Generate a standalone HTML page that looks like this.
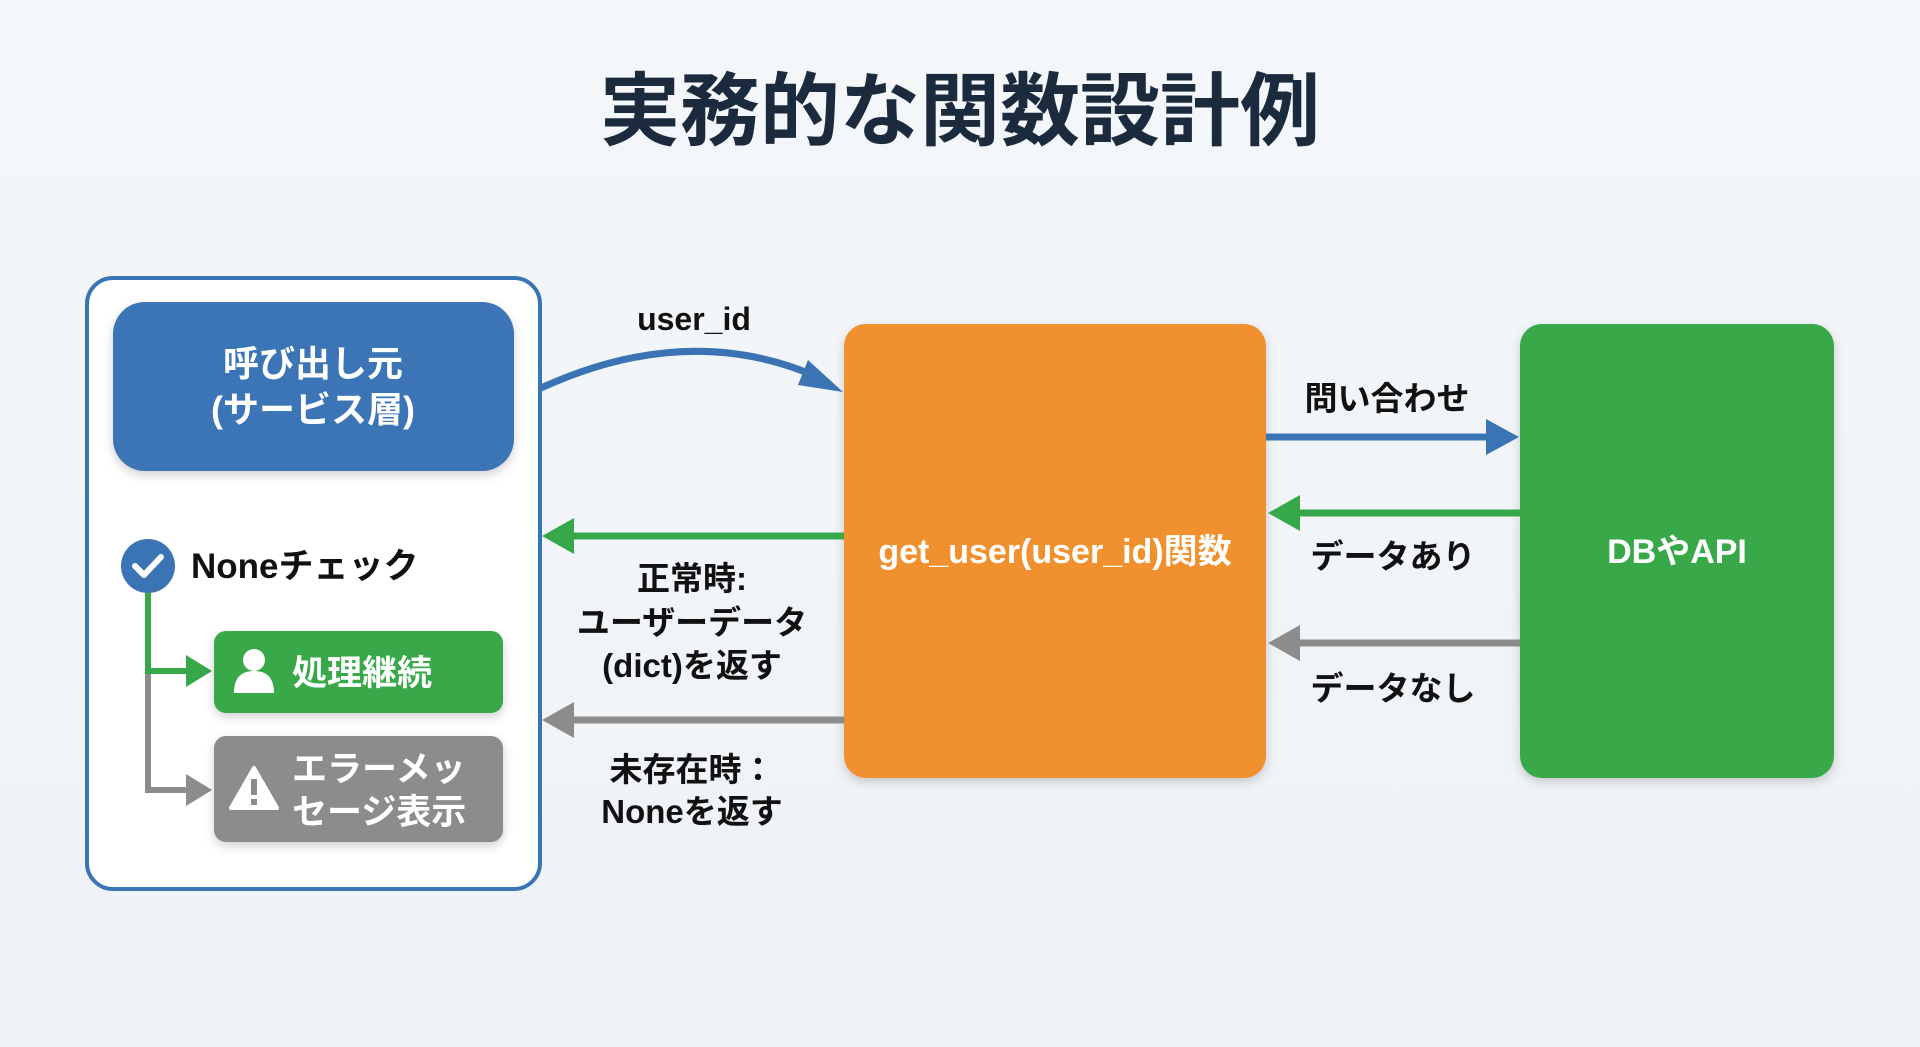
<!DOCTYPE html>
<html><head><meta charset="utf-8"><style>
html,body{margin:0;padding:0;width:1920px;height:1047px;overflow:hidden;background:linear-gradient(180deg,#f4f7fa,#eef2f6);}
svg{display:block}
text{font-family:"Liberation Sans","Noto Sans CJK JP",sans-serif;font-weight:bold}
</style></head><body>
<svg width="1920" height="1047" viewBox="0 0 1920 1047" xmlns="http://www.w3.org/2000/svg">
<defs>
<filter id="sh" x="-10%" y="-10%" width="120%" height="130%"><feDropShadow dx="0" dy="4" stdDeviation="5" flood-color="#000" flood-opacity="0.18"/></filter>
</defs>
<text x="960" y="139" font-size="80" text-anchor="middle" fill="#1b2a3c">実務的な関数設計例</text>

<rect x="87" y="278" width="453" height="611" rx="26" fill="#fff" stroke="#3a74b5" stroke-width="4"/>
<rect x="113" y="302" width="401" height="169" rx="32" fill="#3a74b5" filter="url(#sh)"/>
<text x="313" y="376" font-size="36" text-anchor="middle" fill="#fff">呼び出し元</text>
<text x="313" y="422" font-size="36" text-anchor="middle" fill="#fff">(サービス層)</text>

<circle cx="148" cy="566" r="27" fill="#3a74b5"/>
<path d="M135 566 l9 9 l17 -18" stroke="#fff" stroke-width="6" fill="none" stroke-linecap="round" stroke-linejoin="round"/>
<text x="191" y="578" font-size="35" fill="#111">Noneチェック</text>

<path d="M148 593 V790 H190" stroke="#8c8c8c" stroke-width="6" fill="none"/>
<polygon points="212,790 186,774 186,806" fill="#8c8c8c"/>
<path d="M148 593 V671 H190" stroke="#37a84a" stroke-width="6" fill="none"/>
<polygon points="212,671 186,655 186,687" fill="#37a84a"/>

<rect x="214" y="631" width="289" height="82" rx="12" fill="#37a84a" filter="url(#sh)"/>
<circle cx="254" cy="660" r="11" fill="#fff"/>
<path d="M234 693 q0 -22 20 -22 q20 0 20 22 z" fill="#fff"/>
<text x="292" y="685" font-size="35" fill="#fff">処理継続</text>

<rect x="214" y="736" width="289" height="106" rx="12" fill="#8c8c8c" filter="url(#sh)"/>
<polygon points="254,768 277,808 231,808" fill="#fff" stroke="#fff" stroke-width="4" stroke-linejoin="round"/>
<rect x="251" y="779" width="6" height="16" fill="#8c8c8c"/><rect x="251" y="799" width="6" height="6" fill="#8c8c8c"/>
<text x="292" y="781" font-size="35" fill="#fff">エラーメッ</text>
<text x="292" y="824" font-size="35" fill="#fff">セージ表示</text>

<rect x="844" y="324" width="422" height="454" rx="22" fill="#f0902e" filter="url(#sh)"/>
<text x="1055" y="563" font-size="34" text-anchor="middle" fill="#fff">get_user(user_id)関数</text>
<rect x="1520" y="324" width="314" height="454" rx="22" fill="#37a84a" filter="url(#sh)"/>
<text x="1677" y="563" font-size="34" text-anchor="middle" fill="#fff">DBやAPI</text>

<text x="694" y="330" font-size="32" text-anchor="middle" fill="#111">user_id</text>
<path d="M541 388 Q690 320 820 378" stroke="#3a74b5" stroke-width="7" fill="none"/>
<polygon points="843,392 808,360 798,385" fill="#3a74b5"/>

<line x1="844" y1="536" x2="565" y2="536" stroke="#37a84a" stroke-width="7"/>
<polygon points="542,536 574,518 574,554" fill="#37a84a"/>
<line x1="844" y1="720" x2="565" y2="720" stroke="#8c8c8c" stroke-width="7"/>
<polygon points="542,720 574,702 574,738" fill="#8c8c8c"/>
<g font-size="33" text-anchor="middle" fill="#111">
<text x="692" y="590">正常時:</text>
<text x="692" y="634">ユーザーデータ</text>
<text x="692" y="677">(dict)を返す</text>
<text x="692" y="781">未存在時：</text>
<text x="692" y="823">Noneを返す</text>
<text x="1387" y="410">問い合わせ</text>
<text x="1393" y="568">データあり</text>
<text x="1393" y="700">データなし</text>
</g>
<line x1="1266" y1="437" x2="1495" y2="437" stroke="#3a74b5" stroke-width="7"/>
<polygon points="1519,437 1486,419 1486,455" fill="#3a74b5"/>
<line x1="1520" y1="513" x2="1292" y2="513" stroke="#37a84a" stroke-width="7"/>
<polygon points="1268,513 1300,495 1300,531" fill="#37a84a"/>
<line x1="1520" y1="643" x2="1292" y2="643" stroke="#8c8c8c" stroke-width="7"/>
<polygon points="1268,643 1300,625 1300,661" fill="#8c8c8c"/>
</svg>
</body></html>
